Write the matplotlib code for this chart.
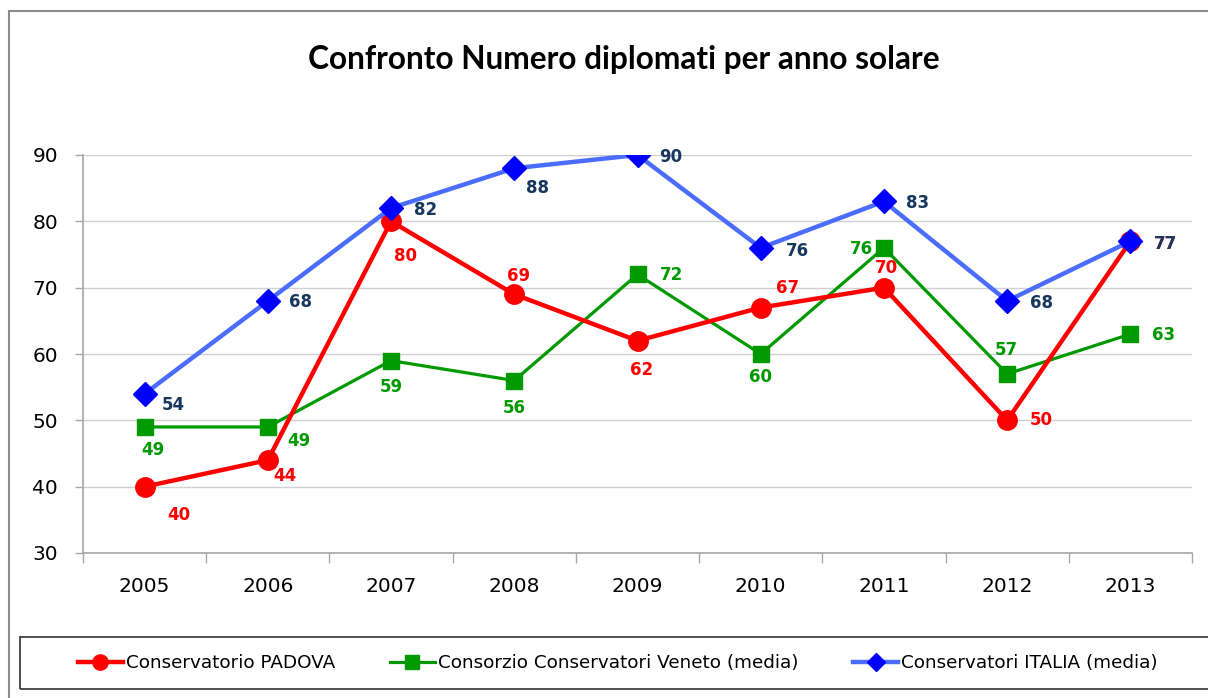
import matplotlib
matplotlib.use("Agg")
import matplotlib.pyplot as plt
from matplotlib.patches import Rectangle
from matplotlib.lines import Line2D

years = ["2005", "2006", "2007", "2008", "2009", "2010", "2011", "2012", "2013"]
padova = [40, 44, 80, 69, 62, 67, 70, 50, 77]
veneto = [49, 49, 59, 56, 72, 60, 76, 57, 63]
italia = [54, 68, 82, 88, 90, 76, 83, 68, 77]
series_names = ["Conservatorio PADOVA", "Consorzio Conservatori Veneto (media)",
                "Conservatori ITALIA (media)"]
title = "Confronto Numero diplomati per anno solare"
y_ticks = [30, 40, 50, 60, 70, 80, 90]

# label offsets in pixels (dx, dy) -- styling only
off_padova = [(34, -28), (17, -16), (14, -35), (4, 18), (4, -29), (27, 20), (2, 20), (34, 0), (35, -3)]
off_veneto = [(8, -23), (31, -14), (0, -26), (0, -27), (34, -1), (0, -23), (-23, -1), (-1, 24), (33, -1)]
off_italia = [(29, -11), (33, -1), (35, -2), (23, -20), (33, -2), (37, -3), (34, -2), (34, -2), (35, -3)]

W, H = 1208, 698
fig = plt.figure(figsize=(W / 100, H / 100), dpi=100)

def fx(px):
    return px / W

def fy(py):
    return 1 - py / H

# outer chart border
fig.add_artist(Rectangle((fx(9), fy(712)), fx(1230) - fx(9), fy(11) - fy(712),
                         transform=fig.transFigure, fill=False, edgecolor="#8c8c8c", lw=1.5))

ax = fig.add_axes([fx(83), fy(553), fx(1192) - fx(83), fy(155) - fy(553)])
x = list(range(len(years)))

red = "#FF0000"
green = "#009900"
blue_line = "#4A6CFF"
blue_mk = "#0000FF"
blue_txt = "#17375E"

ax.plot(x, veneto, color=green, lw=2.3, marker="s", ms=12, mfc=green, mec=green, zorder=3)
ax.plot(x, padova, color=red, lw=3.2, marker="o", ms=14, mfc=red, mec=red, zorder=4)
ax.plot(x, italia, color=blue_line, lw=3.2, marker="D", ms=12.5, mfc=blue_mk, mec=blue_mk, zorder=5)

lab_kw = dict(textcoords="offset pixels", ha="center", va="center",
              fontsize=12, fontweight="bold", family="DejaVu Sans")
for i in range(len(x)):
    ax.annotate(str(padova[i]), (x[i], padova[i]), xytext=off_padova[i], color=red, zorder=6, **lab_kw)
    ax.annotate(str(veneto[i]), (x[i], veneto[i]), xytext=off_veneto[i], color=green, zorder=6, **lab_kw)
    ax.annotate(str(italia[i]), (x[i], italia[i]), xytext=off_italia[i], color=blue_txt, zorder=7, **lab_kw)

ax.set_xlim(-0.5, len(years) - 0.5)
ax.set_ylim(30, 90)
ax.set_yticks(y_ticks)
ax.set_yticklabels([str(v) for v in y_ticks], fontsize=14.5, family="DejaVu Sans")
ax.set_xticks(x)
ax.set_xticklabels(years, fontsize=14.5, family="DejaVu Sans")
ax.set_xticks([i - 0.5 for i in range(len(years) + 1)], minor=True)
ax.tick_params(axis="x", which="major", length=0, pad=17)
ax.tick_params(axis="x", which="minor", length=7.5, width=1, color="#a6a6a6")
ax.tick_params(axis="y", length=6, width=1, color="#a6a6a6", pad=12)
ax.yaxis.grid(True, color="#d0d0d0", lw=1)
ax.set_axisbelow(True)
for s in ["top", "right"]:
    ax.spines[s].set_visible(False)
for s in ["left", "bottom"]:
    ax.spines[s].set_color("#a6a6a6")
    ax.spines[s].set_linewidth(1.2)

fig.text(fx(624), fy(60), title, ha="center", va="center", fontsize=22.8,
         fontweight="bold", family="Lato")

# legend box
fig.add_artist(Rectangle((fx(20), fy(689)), fx(1230) - fx(20), fy(637) - fy(689),
                         transform=fig.transFigure, fill=False, edgecolor="#404040", lw=1.3))
handles = [
    Line2D([], [], color=red, lw=3.2, marker="o", ms=11, mfc=red, mec=red),
    Line2D([], [], color=green, lw=2.3, marker="s", ms=10, mfc=green, mec=green),
    Line2D([], [], color=blue_line, lw=3.2, marker="D", ms=9, mfc=blue_mk, mec=blue_mk),
]
leg = fig.legend(handles, series_names, loc="center left", bbox_to_anchor=(fx(78), fy(663)),
                 ncol=3, frameon=False, handlelength=2.45, handletextpad=0.15,
                 columnspacing=3.0, prop={"family": "DejaVu Sans", "size": 13.2},
                 borderaxespad=0, borderpad=0)

fig.savefig("out.png", dpi=100)
